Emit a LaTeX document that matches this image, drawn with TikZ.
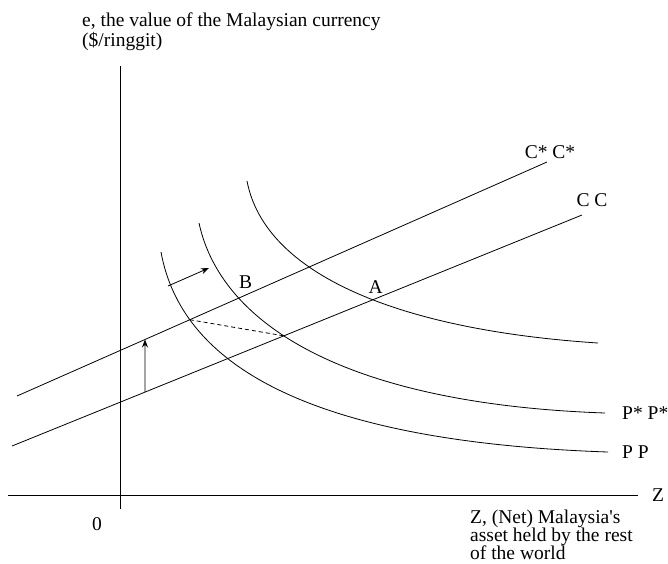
\documentclass[tikz,border=0pt]{standalone}
\usepackage{fontspec}
\setmainfont{Liberation Serif}
\usetikzlibrary{arrows.meta,positioning,calc,intersections}
\tikzset{
  tengely/.style={line width=0.8pt},
  gorbe/.style={line width=0.8pt},
  nyil/.style={-{Stealth[length=8pt,width=6pt]},line width=0.8pt},
  szagg/.style={dash pattern=on 4pt off 3pt,line width=0.8pt},
  felirat/.style={inner sep=0pt,align=left,anchor=north west},
}

\begin{document}
\begin{tikzpicture}[x=1pt,y=-1pt,font=\fontsize{19.5}{18}\selectfont]
  \useasboundingbox (0,0) rectangle (668,563);
  % axes
  \coordinate (ytop) at (120,66); \coordinate (ybot) at (120,509);
  \coordinate (xl) at (8,495); \coordinate (xr) at (638,495);
  \draw[tengely] (ybot) -- (ytop);
  \draw[tengely] (xl) -- (xr);
  \node (z) [right=14pt of xr,inner sep=0pt] {Z};
  \node (nulla) at (97,524) {0};
  \node (ylab) [felirat] at (82,13) {e, the value of the Malaysian currency\\(\$/ringgit)};
  \node (zlab) [felirat] at (470,510) {Z, (Net) Malaysia\textquotesingle s\\asset held by the rest\\of the world};
  % C C and C* C*
  \coordinate (cc1) at (12,446); \coordinate (cc2) at (582,215);
  \coordinate (cs1) at (17,396); \coordinate (cs2) at (547,162);
  \draw[gorbe,name path=cc] (cc1) -- (cc2);
  \draw[gorbe,name path=cs] (cs1) -- (cs2);
  \node (ccl) at (592,200) {C C};
  \node (csl) at (550,152) {C* C*};
  % P P, P* P* and the third curve
  \coordinate (pp1) at (161,252); \coordinate (pp2) at (608,452);
  \coordinate (ps1) at (199,223); \coordinate (ps2) at (605,413);
  \coordinate (pa1) at (247,181); \coordinate (pa2) at (598,343);
  \draw[gorbe,name path=pp] (pp1) .. controls (182,368) and (315,442) .. (pp2);
  \draw[gorbe,name path=ps] (ps1) .. controls (221,325) and (347,404) .. (ps2);
  \draw[gorbe,name path=pa] (pa1) .. controls (265,275) and (400,330) .. (pa2);
  \node (ppl) [right=14pt of pp2,inner sep=0pt] {P P};
  \node (psl) [right=17pt of ps2,inner sep=0pt] {P* P*};
  % equilibria
  \path[name intersections={of=cc and pa,by=A}];
  \path[name intersections={of=cs and ps,by=B}];
  \path[name intersections={of=cs and pp,by=d1}];
  \path[name intersections={of=cc and ps,by=d2}];
  \node (al) [above=6pt of A,xshift=3pt,inner sep=0pt] {A};
  \node (bl) [above=9pt of B,xshift=7pt,inner sep=0pt] {B};
  \draw[szagg] (d1) -- (d2);
  % shifts
  \coordinate (f1) at ($(cc1)!0.2333!(cc2)$);
  \coordinate (f2) at ($(cs1)!0.2415!(cs2)$);
  \draw[nyil] (f1) -- (f2);
  \coordinate (g1) at (168,286); \coordinate (g2) at (209,268);
  \draw[nyil] (g1) -- (g2);
\end{tikzpicture}
\end{document}
